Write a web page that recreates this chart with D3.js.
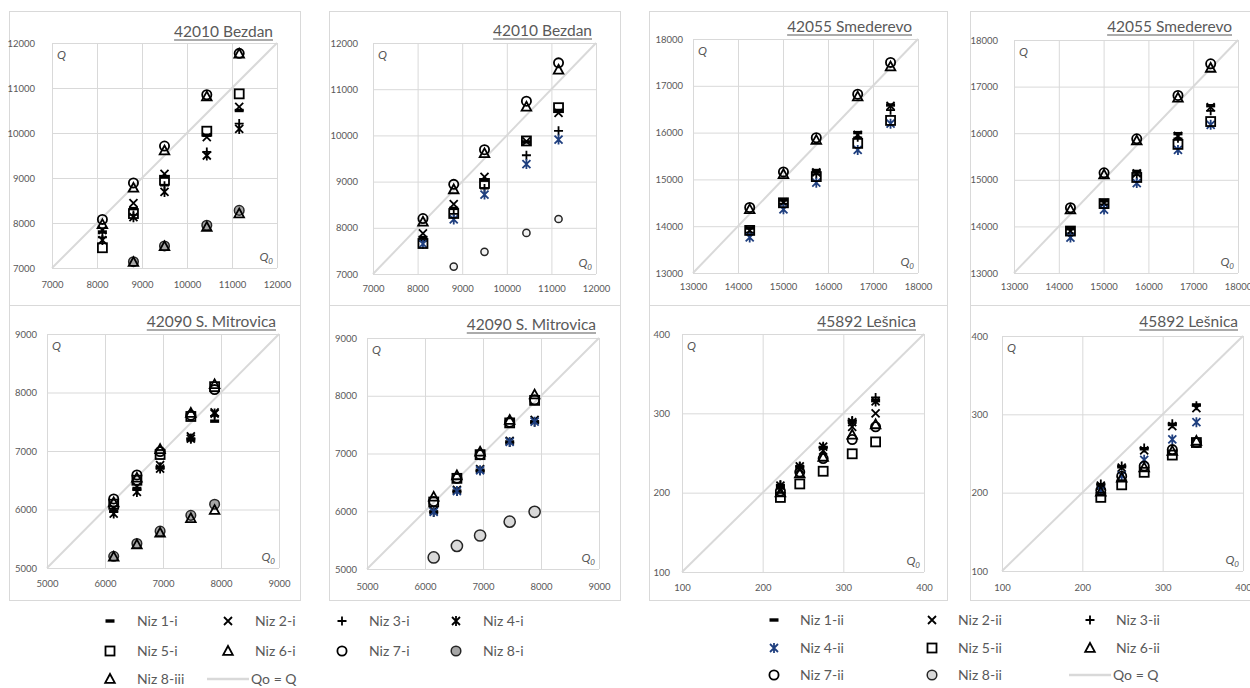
<!DOCTYPE html>
<html><head><meta charset="utf-8">
<script src="https://cdn.jsdelivr.net/npm/d3@7"></script>
<style>
body{margin:0;background:#fff;}
svg{display:block;font-family:Lato,"Open Sans",sans-serif;}
</style>
</head><body>
<svg id="c" width="1250" height="688"></svg>
<script>
// ---------------- DATA ----------------
const seriesNamesI  = ["Niz 1-i","Niz 2-i","Niz 3-i","Niz 4-i","Niz 5-i","Niz 6-i","Niz 7-i","Niz 8-i","Niz 8-iii"];
const seriesNamesII = ["Niz 1-ii","Niz 2-ii","Niz 3-ii","Niz 4-ii","Niz 5-ii","Niz 6-ii","Niz 7-ii","Niz 8-ii"];

const bezdanTicks = [7000,8000,9000,10000,11000,12000];
const smedTicks   = [13000,14000,15000,16000,17000,18000];
const mitroTicks  = [5000,6000,7000,8000,9000];
const lesnTicks   = [100,200,300,400];

// 42010 Bezdan (i)
const bezdanX = [8120, 8810, 9500, 10440, 11160];
const bezdanIY = [
  [7800, 8320, 9020, 9950, 10500],   // Niz 1
  [7840, 8440, 9090, 9910, 10580],   // Niz 2
  [7680, 8180, 8830, 9580, 10210],   // Niz 3
  [7620, 8130, 8690, 9500, 10090],   // Niz 4
  [7450, 8210, 8950, 10040, 10870],  // Niz 5
  [7970, 8780, 9610, 10810, 11760],  // Niz 6
  [8080, 8890, 9710, 10850, 11770],  // Niz 7
  [null, 7140, 7490, 7950, 8280],    // Niz 8
  [null, 7130, 7480, 7910, 8210]     // Niz 8-iii
];
// 42010 Bezdan (ii)
const bezdanIIY = [
  [7790, 8420, 9030, 9860, 10540],
  [7880, 8510, 9100, 9870, 10490],
  [7720, 8300, 8850, 9570, 10100],
  [7650, 8180, 8720, 9380, 9910],
  [7660, 8310, 8960, 9880, 10600],
  [8130, 8830, 9610, 10620, 11420],
  [8200, 8940, 9690, 10740, 11570],
  [null, 7160, 7480, 7890, 8190]
];
// 42055 Smederevo
const smedX = [14260, 15010, 15740, 16660, 17390];
const smedIY = [
  [13960, 14560, 15190, 16000, 16590],
  [13910, 14510, 15150, 15950, 16570],
  [13860, 14480, 15110, 15900, 16480],
  [13760, 14360, 14930, 15630, 16190],
  [13910, 14500, 15060, 15770, 16260],
  [14360, 15110, 15840, 16770, 17410],
  [14400, 15160, 15890, 16820, 17500]
];
const smedIIY = [
  [13950, 14550, 15180, 15990, 16590],
  [13900, 14500, 15140, 15940, 16560],
  [13850, 14470, 15100, 15890, 16480],
  [13760, 14360, 14930, 15640, 16180],
  [13900, 14490, 15050, 15760, 16250],
  [14360, 15110, 15840, 16760, 17400],
  [14400, 15150, 15880, 16810, 17490]
];
// 42090 S. Mitrovica (i)
const mitroIX = [6150, 6550, 6950, 7480, 7890];
const mitroIY = [
  [5970, 6360, 6710, 7190, 7510],
  [6020, 6390, 6760, 7250, 7660],
  [5960, 6330, 6730, 7220, 7600],
  [5930, 6300, 6700, 7210, 7640],
  [6090, 6500, 6940, 7590, 8100],
  [6120, 6540, 7030, 7650, 8140],
  [6180, 6590, 6990, 7610, 8050],
  [5200, 5420, 5630, 5900, 6090],
  [5190, 5400, 5600, 5850, 5990]
];
// 42090 S. Mitrovica (ii)
const mitroIIX = [6150, 6550, 6950, 7460, 7890];
const mitroIIY = [
  [5990, 6350, 6710, 7200, 7550],
  [6010, 6370, 6730, 7220, 7580],
  [5980, 6340, 6700, 7190, 7540],
  [5990, 6350, 6710, 7200, 7550],
  [6160, 6570, 6980, 7530, 7920],
  [6250, 6620, 7030, 7580, 8020],
  [6170, 6570, 6980, 7540, 7930],
  [5200, 5400, 5580, 5820, 5990]
];
// 45892 Lešnica (i)
const lesnIX = [222, 246, 275, 311, 340];
const lesnIY = [
  [208, 232, 257, 290, 316],
  [203, 230, 253, 283, 300],
  [210, 233, 257, 291, 320],
  [209, 233, 258, 289, 315],
  [194, 211, 227, 249, 264],
  [200, 224, 245, 273, 286],
  [202, 226, 243, 267, 283]
];
// 45892 Lešnica (ii)
const lesnIIX = [223, 249, 277, 312, 342];
const lesnIIY = [
  [210, 233, 256, 287, 312],
  [209, 232, 254, 285, 308],
  [211, 234, 257, 288, 311],
  [203, 222, 242, 268, 290],
  [194, 210, 226, 248, 264],
  [201, 219, 232, 253, 266],
  [203, 221, 234, 255, 264]
];

// ---------------- LAYOUT / STYLE ----------------
const BLUE = "#1f3f7f";
const GRID = "#d9d9d9";
const TXT = "#595959";
const GRAY_I = "#a6a6a6", GRAY_II = "#d9d9d9";
const markerTypes   = ["dash","cross","plus","star","square","triangle","circle","gcircle","triangle"];
const markerColorsI = ["#000","#000","#000","#000","#000","#000","#000","#000","#000"];
const markerColorsII= ["#000","#000","#000",BLUE,"#000","#000","#000","#000"];

const panels = [
  {title:"42010 Bezdan", xs:bezdanX, ys:bezdanIY, ticks:bezdanTicks, colors:markerColorsI, gf:GRAY_I, gr:4.8,
   bx:9,by:11,bw:291,bh:294,l:52,r:277,t:43,b:268,ylx:35,xly:288,ttx:273,tty:37},
  {title:"42010 Bezdan", xs:bezdanX, ys:bezdanIIY, ticks:bezdanTicks, colors:markerColorsII, gf:"#f2f2f2", gr:3.6,
   bx:329,by:11,bw:291,bh:294,l:373,r:596,t:43,b:274,ylx:358,xly:292,ttx:592,tty:36},
  {title:"42055 Smederevo", xs:smedX, ys:smedIY, ticks:smedTicks, colors:markerColorsII, gf:GRAY_II, gr:4.8,
   bx:649,by:11,bw:298,bh:294,l:693,r:918,t:39,b:273,ylx:683,xly:290,ttx:912,tty:32},
  {title:"42055 Smederevo", xs:smedX, ys:smedIIY, ticks:smedTicks, colors:markerColorsII, gf:GRAY_II, gr:4.8,
   bx:970,by:11,bw:300,bh:294,l:1014,r:1238,t:40,b:273,ylx:998,xly:290,ttx:1232,tty:32},
  {title:"42090 S. Mitrovica", xs:mitroIX, ys:mitroIY, ticks:mitroTicks, colors:markerColorsI, gf:GRAY_I, gr:4.8,
   bx:9,by:305,bw:291,bh:295,l:47,r:279,t:334,b:568,ylx:37,xly:587,ttx:276,tty:327},
  {title:"42090 S. Mitrovica", xs:mitroIIX, ys:mitroIIY, ticks:mitroTicks, colors:markerColorsII, gf:GRAY_II, gr:5.6,
   bx:329,by:305,bw:291,bh:295,l:367,r:599,t:338,b:569,ylx:357,xly:590,ttx:596,tty:330},
  {title:"45892 Lešnica", xs:lesnIX, ys:lesnIY, ticks:lesnTicks, colors:markerColorsI, gf:GRAY_I, gr:4.8,
   bx:649,by:305,bw:298,bh:295,l:682,r:924,t:334,b:572,ylx:670,xly:591,ttx:916,tty:327},
  {title:"45892 Lešnica", xs:lesnIIX, ys:lesnIIY, ticks:lesnTicks, colors:markerColorsII, gf:GRAY_II, gr:4.8,
   bx:970,by:305,bw:300,bh:295,l:1002,r:1243,t:336,b:571,ylx:988,xly:591,ttx:1238,tty:327}
];

const svg = d3.select("#c");

function drawMarker(g, type, color, cx, cy, gfill, gr) {
  const sw = 1.8;
  if (type === "dash") {
    g.append("rect").attr("x", cx-4.5).attr("y", cy-1.7).attr("width", 9).attr("height", 3.4).attr("fill", color);
  } else if (type === "cross") {
    g.append("path").attr("d", `M${cx-4},${cy-4}L${cx+4},${cy+4}M${cx-4},${cy+4}L${cx+4},${cy-4}`)
      .attr("stroke", color).attr("stroke-width", sw).attr("fill","none");
  } else if (type === "plus") {
    g.append("path").attr("d", `M${cx-4.5},${cy}H${cx+4.5}M${cx},${cy-4.5}V${cy+4.5}`)
      .attr("stroke", color).attr("stroke-width", sw).attr("fill","none");
  } else if (type === "star") {
    g.append("path").attr("d", `M${cx-4},${cy-4}L${cx+4},${cy+4}M${cx-4},${cy+4}L${cx+4},${cy-4}M${cx},${cy-5}V${cy+5}`)
      .attr("stroke", color).attr("stroke-width", sw).attr("fill","none");
  } else if (type === "square") {
    g.append("rect").attr("x", cx-4.5).attr("y", cy-4.5).attr("width", 9).attr("height", 9)
      .attr("stroke", color).attr("stroke-width", sw).attr("fill","none");
  } else if (type === "triangle") {
    g.append("path").attr("d", `M${cx},${cy-5}L${cx+4.8},${cy+3.8}L${cx-4.8},${cy+3.8}Z`)
      .attr("stroke", color).attr("stroke-width", sw).attr("fill","none");
  } else if (type === "circle") {
    g.append("circle").attr("cx", cx).attr("cy", cy).attr("r", 4.6)
      .attr("stroke", color).attr("stroke-width", sw).attr("fill","none");
  } else if (type === "gcircle") {
    g.append("circle").attr("cx", cx).attr("cy", cy).attr("r", gr || 4.8)
      .attr("stroke", "#262626").attr("stroke-width", 1.5).attr("fill", gfill || GRAY_I);
  }
}

panels.forEach((p) => {
  const g = svg.append("g");
  g.append("rect").attr("x", p.bx+0.5).attr("y", p.by+0.5).attr("width", p.bw).attr("height", p.bh)
    .attr("fill","none").attr("stroke", GRID).attr("stroke-width", 1);

  const dom = d3.extent(p.ticks);
  const x = d3.scaleLinear().domain(dom).range([p.l, p.r]);
  const y = d3.scaleLinear().domain(dom).range([p.b, p.t]);

  const gx = g.append("g").attr("transform", `translate(0,${p.b})`)
    .call(d3.axisBottom(x).tickValues(p.ticks).tickSize(-(p.b-p.t)).tickFormat(""));
  gx.select(".domain").remove();
  gx.selectAll("line").attr("stroke", GRID).attr("stroke-width", 1);
  const gy = g.append("g").attr("transform", `translate(${p.l},0)`)
    .call(d3.axisLeft(y).tickValues(p.ticks).tickSize(-(p.r-p.l)).tickFormat(""));
  gy.select(".domain").remove();
  gy.selectAll("line").attr("stroke", GRID).attr("stroke-width", 1);

  const lx = g.append("g").attr("transform", `translate(0,${p.xly})`)
    .call(d3.axisBottom(x).tickValues(p.ticks).tickSize(0).tickPadding(0).tickFormat(d3.format("d")));
  lx.select(".domain").remove();
  lx.selectAll("text").attr("fill", TXT).attr("font-size", 9.5).attr("dy", 0).attr("font-family","Lato");
  const ly = g.append("g").attr("transform", `translate(${p.ylx},0)`)
    .call(d3.axisLeft(y).tickValues(p.ticks).tickSize(0).tickPadding(0).tickFormat(d3.format("d")));
  ly.select(".domain").remove();
  ly.selectAll("text").attr("fill", TXT).attr("font-size", 9.5).attr("font-family","Lato");

  g.append("line").attr("x1", x(dom[0])).attr("y1", y(dom[0])).attr("x2", x(dom[1])).attr("y2", y(dom[1]))
    .attr("stroke", GRID).attr("stroke-width", 2);

  g.append("text").attr("x", p.l+5).attr("y", p.t+16).attr("fill", TXT).attr("font-size", 12)
    .attr("font-style","italic").text("Q");
  const q0 = g.append("text").attr("x", p.r-4).attr("y", p.b-7).attr("fill", TXT).attr("font-size", 12)
    .attr("font-style","italic").attr("text-anchor","end");
  q0.append("tspan").text("Q");
  q0.append("tspan").attr("font-size", 8).attr("dy", 3).text("0");

  const tt = g.append("text").attr("x", p.ttx).attr("y", p.tty).attr("text-anchor","end")
    .attr("fill", TXT).attr("font-size", 15.5).text(p.title);
  const tw = tt.node().getComputedTextLength();
  g.append("line").attr("x1", p.ttx - tw).attr("x2", p.ttx).attr("y1", p.tty+3).attr("y2", p.tty+3)
    .attr("stroke", TXT).attr("stroke-width", 1.2);

  const mg = g.append("g");
  p.ys.forEach((vals, si) => {
    vals.forEach((v, k) => {
      if (v == null) return;
      const xv = p.xs[k];
      if (v < dom[0] || v > dom[1] || xv < dom[0] || xv > dom[1]) return;
      drawMarker(mg, markerTypes[si], p.colors[si], x(xv), y(v), p.gf, p.gr);
    });
  });
});

// ---------------- LEGENDS ----------------
const legLeft = seriesNamesI.map((n, i) => ({name:n, type:markerTypes[i], color:markerColorsI[i], gf:GRAY_I}))
  .concat([{name:"Qo = Q", type:"line"}]);
const legRight = seriesNamesII.map((n, i) => ({name:n, type:markerTypes[i], color:markerColorsII[i], gf:GRAY_II}))
  .concat([{name:"Qo = Q", type:"line"}]);

function drawLegend(items, cols, colX, rowY, gap) {
  const g = svg.append("g");
  items.forEach((it, i) => {
    const c = i % cols, r = Math.floor(i / cols);
    const mx = colX[c], my = rowY[r];
    if (it.type === "line") {
      g.append("line").attr("x1", mx-21).attr("x2", mx+21).attr("y1", my).attr("y2", my)
        .attr("stroke", GRID).attr("stroke-width", 2.5);
      g.append("text").attr("x", mx+23).attr("y", my).attr("dy","0.35em").attr("fill", TXT)
        .attr("font-size", 14).text(it.name);
    } else {
      drawMarker(g, it.type, it.color, mx, my, it.gf, 4.8);
      g.append("text").attr("x", mx+gap).attr("y", my).attr("dy","0.35em").attr("fill", TXT)
        .attr("font-size", 14).text(it.name);
    }
  });
}
drawLegend(legLeft, 4, [110, 228, 342, 456], [621, 651, 679], 27);
drawLegend(legRight, 3, [774, 932, 1090], [620, 648, 675], 26);
</script>
</body></html>
